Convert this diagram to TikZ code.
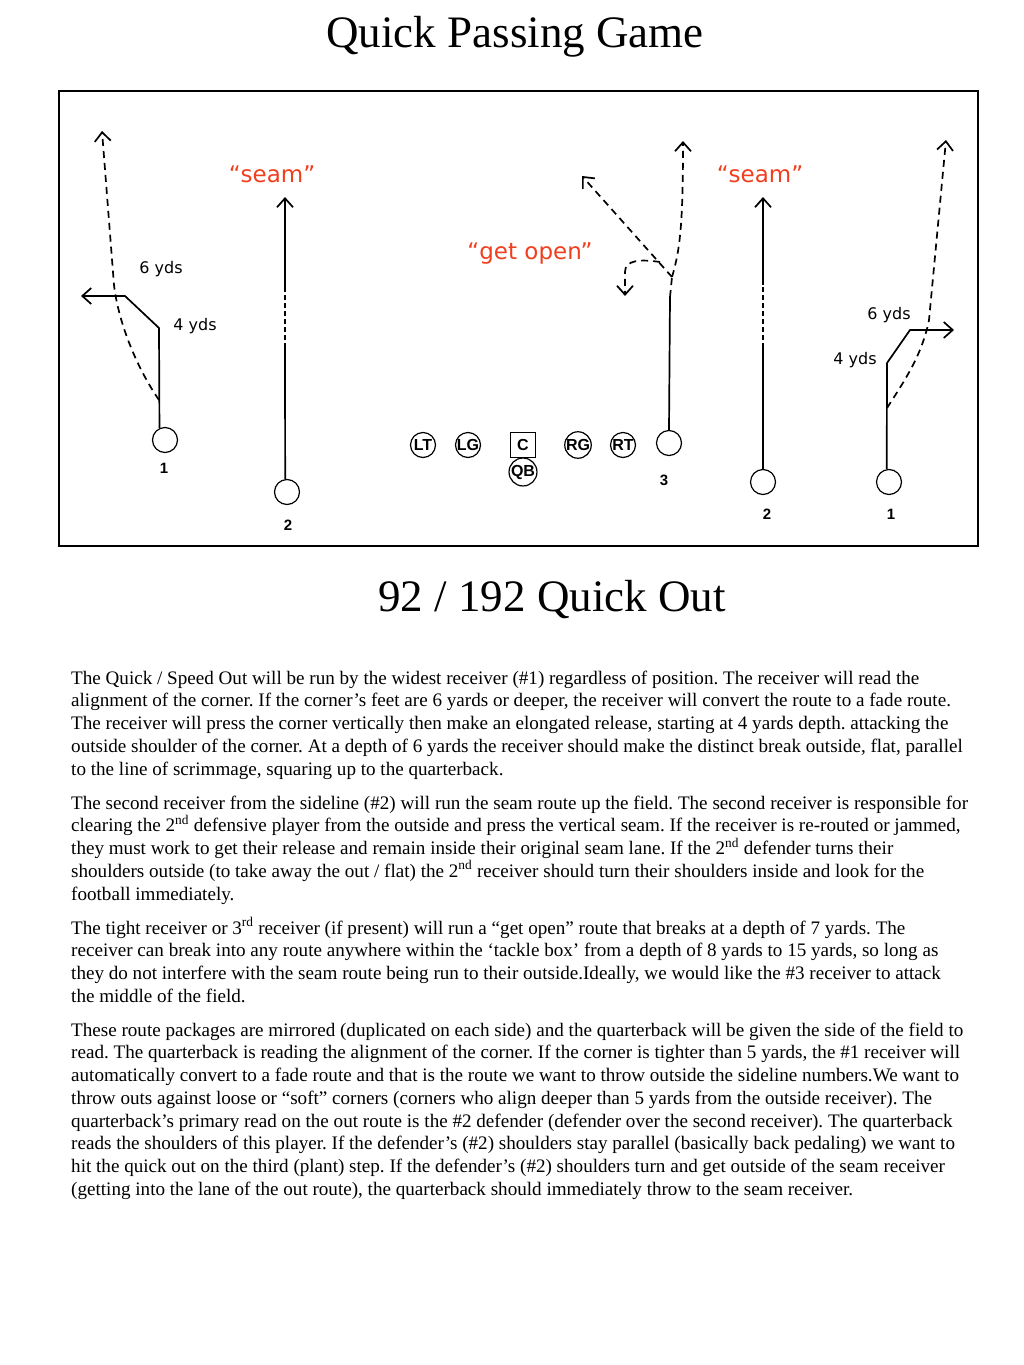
\documentclass[tikz,border=0pt]{standalone}
\usepackage{fontspec}
\setmainfont{Liberation Serif}
\setsansfont{Liberation Sans}
\newfontfamily\verdana{DejaVu Sans}
\usetikzlibrary{arrows.meta}

\definecolor{callred}{RGB}{240,62,30}

\tikzset{
  player/.style={circle, draw, line width=1.2pt, minimum size=25pt, inner sep=0pt,
    font=\sffamily\bfseries\fontsize{16}{16}\selectfont},
  snapbox/.style={rectangle, draw, line width=1.2pt, minimum size=25pt, inner sep=0pt,
    font=\sffamily\bfseries\fontsize{16}{16}\selectfont},
  num/.style={font=\sffamily\bfseries\fontsize{15}{15}\selectfont},
  route/.style={line width=1.7pt},
  option/.style={route, dash pattern=on 7pt off 5pt},
  thinseam/.style={line width=1.1pt, dash pattern=on 5pt off 3pt},
  headed/.style={-{Straight Barb[length=9pt,width=16pt]}},
  callout/.style={text=callred, font=\verdana\fontsize{23}{23}\selectfont},
  yds/.style={font=\verdana\fontsize{16}{16}\selectfont},
  para/.style={anchor=north west, align=left, inner sep=0pt,
    font=\fontsize{19.1}{22.7}\selectfont\frenchspacing},
}

\begin{document}
\begin{tikzpicture}[x=1pt, y=-1pt]
    \useasboundingbox (0,0) rectangle (1024,1365);

    % titles
    \node[anchor=base, font=\fontsize{45}{45}\selectfont] (title) at (515,47) {Quick Passing Game};
    \node[anchor=base, font=\fontsize{45}{45}\selectfont] (playname) at (552,611) {92 / 192 Quick Out};

    % the field
    \draw[line width=1.3pt] (59,91) rectangle (978,546);

    % line
    \node[player] (lt) at (423,445) {LT};
    \node[player] (lg) at (468,445) {LG};
    \node[snapbox] (c) at (523,445) {C};
    \node[player] (qb) at (523,472) {QB};
    \node[player] (rg) at (578,445) {RG};
    \node[player] (rt) at (623,445) {RT};

    % receivers
    \node[player] (wr1L) at (165,440) {};
    \node[num] (n1L) at (164,468) {1};
    \node[player] (wr2L) at (287,492) {};
    \node[num] (n2L) at (288,525) {2};
    \node[player] (wr3) at (669,443) {};
    \node[num] (n3) at (664,480) {3};
    \node[player] (wr2R) at (763,482) {};
    \node[num] (n2R) at (767,514) {2};
    \node[player] (wr1R) at (889,482) {};
    \node[num] (n1R) at (891,514) {1};

    % left #1: quick out, fade option
    \coordinate (l1stem) at (159,328);
    \coordinate (l1break) at (125,296);
    \coordinate (l1out) at (81,296);
    \coordinate (l1fade) at (159,400);
    \coordinate (l1bend) at (114,285);
    \coordinate (l1deep) at (102,131);
    \draw[route, headed] (wr1L.115) -- (l1stem) -- (l1break) -- (l1out);
    \draw[option, headed] (l1fade) .. controls (135,365) and (118,320) .. (l1bend) -- (l1deep);
    \node[yds] (six1L) at (161,269) {6 yds};
    \node[yds] (four1L) at (195,326) {4 yds};

    % left #2: seam
    \coordinate (s2Llow) at (285,348);
    \coordinate (s2Lhigh) at (285,287);
    \coordinate (s2Ltop) at (285,197);
    \draw[route] (wr2L.98) -- (s2Llow);
    \draw[thinseam] (s2Llow) -- (s2Lhigh);
    \draw[route, headed] (s2Lhigh) -- (s2Ltop);
    \node[callout] (seamL) at (272,174) {“seam”};

    % #3: get open
    \coordinate (g3stem) at (670,297);
    \coordinate (g3split) at (672,277);
    \coordinate (g3vert) at (683,141);
    \coordinate (g3post) at (582,176);
    \coordinate (g3hook) at (660,262);
    \coordinate (g3curl) at (625,296);
    \draw[route] (wr3.north) -- (g3stem);
    \draw[option] (g3stem) -- (g3split);
    \draw[option, headed] (g3split) .. controls (680,250) and (683,225) .. (g3vert);
    \draw[option, headed] (g3split) -- (g3post);
    \draw[option, headed] (g3hook) .. controls (640,259) and (625,260) .. (625,272) -- (g3curl);
    \node[callout] (getopen) at (530,254) {“get open”};

    % right #2: seam
    \coordinate (s2Rlow) at (763,348);
    \coordinate (s2Rhigh) at (763,285);
    \coordinate (s2Rtop) at (763,197);
    \draw[route] (wr2R.north) -- (s2Rlow);
    \draw[thinseam] (s2Rlow) -- (s2Rhigh);
    \draw[route, headed] (s2Rhigh) -- (s2Rtop);
    \node[callout] (seamR) at (760,174) {“seam”};

    % right #1: quick out, fade option
    \coordinate (r1stem) at (887,363);
    \coordinate (r1break) at (910,330);
    \coordinate (r1out) at (954,330);
    \coordinate (r1fade) at (887,408);
    \coordinate (r1bend) at (929,320);
    \coordinate (r1deep) at (946,140);
    \draw[route, headed] (wr1R.100) -- (r1stem) -- (r1break) -- (r1out);
    \draw[option, headed] (r1fade) .. controls (905,380) and (922,355) .. (r1bend) -- (r1deep);
    \node[yds] (six1R) at (889,315) {6 yds};
    \node[yds] (four1R) at (855,360) {4 yds};

    % coaching points
    \node[para] (pone) at (71,667) {\rule{0pt}{17pt}The Quick / Speed Out will be run by the widest receiver (\#1) regardless of position. The receiver will read the\\
alignment of the corner. If the corner’s feet are 6 yards or deeper, the receiver will convert the route to a fade route.\\
The receiver will press the corner vertically then make an elongated release, starting at 4 yards depth. attacking the\\
outside shoulder of the corner. At a depth of 6 yards the receiver should make the distinct break outside, flat, parallel\\
to the line of scrimmage, squaring up to the quarterback.};

    \node[para] (ptwo) at (71,792) {\rule{0pt}{17pt}The second receiver from the sideline (\#2) will run the seam route up the field. The second receiver is responsible for\\
clearing the 2\textsuperscript{nd} defensive player from the outside and press the vertical seam. If the receiver is re-routed or jammed,\\
they must work to get their release and remain inside their original seam lane. If the 2\textsuperscript{nd} defender turns their\\
shoulders outside (to take away the out / flat) the 2\textsuperscript{nd} receiver should turn their shoulders inside and look for the\\
football immediately.};

    \node[para] (pthree) at (71,917) {\rule{0pt}{17pt}The tight receiver or 3\textsuperscript{rd} receiver (if present) will run a “get open” route that breaks at a depth of 7 yards. The\\
receiver can break into any route anywhere within the ‘tackle box’ from a depth of 8 yards to 15 yards, so long as\\
they do not interfere with the seam route being run to their outside.Ideally, we would like the \#3 receiver to attack\\
the middle of the field.};

    \node[para] (pfour) at (71,1019) {\rule{0pt}{17pt}These route packages are mirrored (duplicated on each side) and the quarterback will be given the side of the field to\\
read. The quarterback is reading the alignment of the corner. If the corner is tighter than 5 yards, the \#1 receiver will\\
automatically convert to a fade route and that is the route we want to throw outside the sideline numbers.We want to\\
throw outs against loose or “soft” corners (corners who align deeper than 5 yards from the outside receiver). The\\
quarterback’s primary read on the out route is the \#2 defender (defender over the second receiver). The quarterback\\
reads the shoulders of this player. If the defender’s (\#2) shoulders stay parallel (basically back pedaling) we want to\\
hit the quick out on the third (plant) step. If the defender’s (\#2) shoulders turn and get outside of the seam receiver\\
(getting into the lane of the out route), the quarterback should immediately throw to the seam receiver.};
\end{tikzpicture}
\end{document}
